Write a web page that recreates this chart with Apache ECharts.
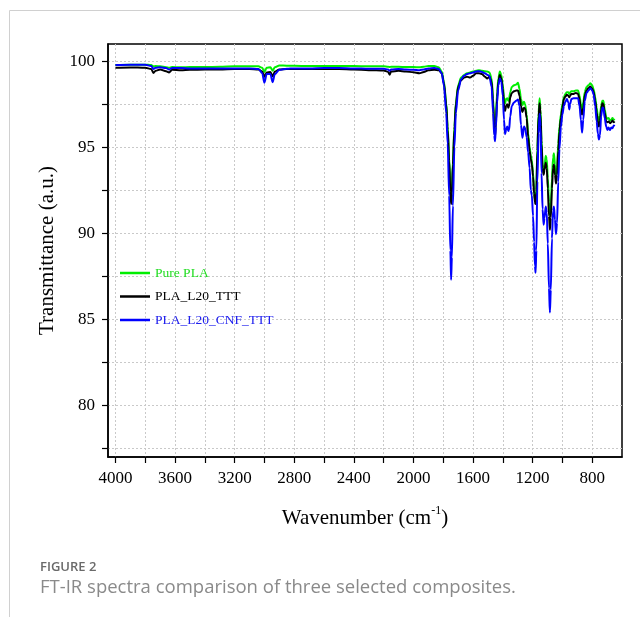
<!DOCTYPE html>
<html>
<head>
<meta charset="utf-8">
<script src="https://cdn.jsdelivr.net/npm/echarts@6/dist/echarts.min.js"></script>
<style>
  html, body { margin: 0; padding: 0; background: #fff; }
  #chart { width: 640px; height: 617px; }
</style>
</head>
<body>
<div id="chart"></div>
<script>
// wavenumber (cm-1)
const wavenumbers = [
  4000, 3900, 3800, 3760, 3745, 3730, 3700, 3660, 3640, 3620,
  3560, 3500, 3400, 3300, 3200, 3100, 3040, 3015, 3000, 2985,
  2960, 2945, 2930, 2900, 2850, 2800, 2700, 2600, 2500, 2400,
  2300, 2200, 2170, 2160, 2150, 2100, 2050, 2000, 1960, 1930,
  1900, 1860, 1830, 1810, 1795, 1780, 1770, 1760, 1752, 1747,
  1742, 1735, 1725, 1715, 1700, 1680, 1660, 1640, 1620, 1600,
  1580, 1560, 1540, 1520, 1505, 1490, 1475, 1465, 1458, 1452,
  1446, 1438, 1430, 1420, 1410, 1400, 1392, 1385, 1378, 1370,
  1363, 1358, 1350, 1340, 1325, 1310, 1298, 1288, 1278, 1268,
  1258, 1250, 1240, 1230, 1220, 1212, 1205, 1197, 1190, 1184,
  1180, 1175, 1168, 1160, 1153, 1147, 1140, 1133, 1126, 1120,
  1112, 1105, 1098, 1090, 1084, 1078, 1070, 1063, 1057, 1050,
  1043, 1036, 1028, 1020, 1010, 1000, 990, 980, 970, 960,
  954, 948, 940, 925, 910, 895, 885, 876, 868, 860,
  850, 838, 825, 812, 800, 790, 780, 770, 762, 755,
  748, 740, 732, 725, 716, 706, 698, 690, 680, 672,
  664, 656, 650
];

const purePLA = [
  99.78, 99.80, 99.80, 99.78, 99.70, 99.72, 99.70, 99.65, 99.62, 99.66,
  99.65, 99.66, 99.66, 99.68, 99.70, 99.70, 99.70, 99.62, 99.38, 99.62,
  99.65, 99.45, 99.65, 99.75, 99.74, 99.73, 99.72, 99.72, 99.72, 99.72,
  99.70, 99.70, 99.68, 99.66, 99.68, 99.68, 99.66, 99.66, 99.65, 99.68,
  99.72, 99.72, 99.65, 99.40, 98.80, 97.60, 96.20, 94.40, 92.60, 91.80,
  92.40, 94.20, 96.20, 97.60, 98.60, 99.05, 99.20, 99.30, 99.35, 99.40,
  99.45, 99.48, 99.45, 99.42, 99.40, 99.35, 99.00, 97.80, 96.60, 96.00,
  96.80, 98.20, 99.00, 99.40, 99.20, 98.60, 97.90, 97.55, 97.80, 97.85,
  97.70, 97.80, 98.20, 98.50, 98.60, 98.65, 98.75, 98.40, 97.80, 97.45,
  97.65, 97.50, 96.90, 95.80, 95.00, 94.50, 94.20, 93.50, 92.50, 91.90,
  91.75, 92.50, 95.00, 97.00, 97.85, 97.20, 95.40, 94.00, 93.50, 93.90,
  94.50, 94.30, 93.20, 91.80, 91.00, 91.50, 93.20, 94.40, 94.65, 94.00,
  93.30, 93.80, 95.20, 96.20, 96.90, 97.50, 97.90, 98.10, 98.20, 98.20,
  98.10, 98.20, 98.25, 98.25, 98.30, 98.30, 98.00, 97.50, 97.20, 97.60,
  98.20, 98.50, 98.60, 98.72, 98.60, 98.35, 97.90, 97.30, 96.80, 96.50,
  96.80, 97.40, 97.70, 97.70, 97.20, 96.75, 96.65, 96.70, 96.55, 96.60,
  96.70, 96.60, 96.65
];

const plaL20TTT = [
  99.62, 99.64, 99.62, 99.55, 99.32, 99.45, 99.52, 99.42, 99.35, 99.50,
  99.48, 99.50, 99.52, 99.52, 99.54, 99.54, 99.52, 99.40, 99.10, 99.35,
  99.38, 99.12, 99.40, 99.52, 99.54, 99.55, 99.55, 99.54, 99.55, 99.52,
  99.48, 99.46, 99.38, 99.22, 99.40, 99.44, 99.40, 99.36, 99.30, 99.38,
  99.48, 99.50, 99.48, 99.30, 98.70, 97.50, 96.00, 94.20, 92.40, 91.70,
  92.30, 94.00, 96.00, 97.50, 98.50, 98.90, 99.05, 99.10, 99.05, 99.15,
  99.30, 99.30, 99.25, 99.10, 99.00, 99.10, 98.80, 97.50, 96.20, 95.60,
  96.50, 97.90, 98.80, 99.20, 99.00, 98.40, 97.50, 97.10, 97.40, 97.50,
  97.30, 97.40, 97.90, 98.15, 98.25, 98.30, 98.30, 98.00, 97.40, 97.05,
  97.30, 97.25, 96.70, 95.60, 94.80, 94.30, 94.00, 93.30, 92.30, 91.80,
  91.70, 92.40, 94.80, 96.80, 97.55, 96.90, 95.20, 93.80, 93.40, 93.70,
  94.10, 93.80, 92.60, 91.00, 90.20, 90.90, 92.60, 93.80, 94.00, 93.40,
  92.90, 93.40, 94.80, 95.90, 96.70, 97.30, 97.80, 97.95, 98.05, 98.00,
  97.90, 98.00, 98.10, 98.10, 98.15, 98.10, 97.80, 97.20, 96.90, 97.30,
  98.00, 98.30, 98.45, 98.53, 98.40, 98.20, 97.70, 97.00, 96.50, 96.20,
  96.50, 97.20, 97.55, 97.50, 97.00, 96.50, 96.45, 96.50, 96.40, 96.45,
  96.55, 96.45, 96.50
];

const plaL20CnfTTT = [
  99.78, 99.80, 99.80, 99.72, 99.55, 99.62, 99.65, 99.60, 99.52, 99.60,
  99.60, 99.58, 99.58, 99.58, 99.58, 99.58, 99.55, 99.30, 98.75, 99.25,
  99.25, 98.78, 99.25, 99.50, 99.56, 99.58, 99.58, 99.60, 99.60, 99.58,
  99.56, 99.56, 99.52, 99.45, 99.52, 99.55, 99.52, 99.50, 99.48, 99.52,
  99.58, 99.60, 99.55, 99.30, 98.60, 97.00, 95.20, 92.20, 89.00, 87.30,
  88.60, 91.60, 95.00, 97.00, 98.30, 98.95, 99.15, 99.25, 99.30, 99.35,
  99.40, 99.42, 99.38, 99.30, 99.22, 99.15, 98.50, 97.00, 95.70, 95.35,
  96.20, 97.60, 98.60, 99.00, 98.80, 98.00, 96.60, 95.75, 96.00, 96.20,
  95.95, 96.00, 96.80, 97.40, 97.60, 97.70, 97.78, 97.40, 96.30, 95.55,
  96.20, 96.10, 95.60, 94.70, 93.80, 92.50, 92.20, 91.00, 89.50, 88.10,
  87.70, 89.00, 93.00, 95.80, 96.95, 96.20, 93.50, 91.40, 90.50, 90.90,
  91.55, 91.20, 89.40, 86.80, 85.40, 86.70, 89.70, 91.30, 91.55, 90.80,
  89.95, 90.60, 93.00, 94.90, 96.20, 96.90, 97.40, 97.65, 97.80, 97.60,
  97.20, 97.50, 97.80, 97.85, 97.85, 97.85, 97.40, 96.60, 95.85, 96.60,
  97.70, 98.15, 98.30, 98.43, 98.30, 98.05, 97.40, 96.50, 95.80, 95.45,
  95.70, 96.80, 97.30, 97.30, 96.70, 96.20, 96.00, 96.15, 96.00, 96.15,
  96.10, 96.25, 96.30
];

// axis ticks and labels
const xTickValues = [800, 1000, 1200, 1400, 1600, 1800, 2000, 2200, 2400, 2600, 2800, 3000, 3200, 3400, 3600, 3800, 4000];
const xLabelValues = [800, 1200, 1600, 2000, 2400, 2800, 3200, 3600, 4000];
const yTickValues = [77.5, 80, 82.5, 85, 87.5, 90, 92.5, 95, 97.5, 100];
const yLabelValues = [80, 85, 90, 95, 100];

const SERIF = 'Liberation Serif, Times New Roman, serif';
const gridLine = { show: true, lineStyle: { color: '#c9c9c9', width: 1, type: [2, 2] } };

let chart = echarts.init(document.getElementById('chart'), null, { renderer: 'canvas' });

function pairs(values) {
  return wavenumbers.map((w, i) => [w, values[i]]);
}

function lineSeries(name, values, color) {
  return {
    name: name,
    type: 'line',
    data: pairs(values),
    symbol: 'none',
    smooth: 0.3,
    smoothMonotone: 'x',
    lineStyle: { color: color, width: 2 },
    itemStyle: { color: color },
    emphasis: { disabled: true },
    animation: false
  };
}

chart.setOption({
  animation: false,
  backgroundColor: '#fff',
  title: [
    {
      text: 'FIGURE 2', left: 40, top: 561, padding: 0,
      textStyle: { fontFamily: 'Open Sans', fontSize: 13, fontWeight: 600, color: '#6a6a6a' }
    },
    {
      text: 'FT-IR spectra comparison of three selected composites.', left: 40, top: 578, padding: 0,
      textStyle: { fontFamily: 'Open Sans', fontSize: 18.5, fontWeight: 'normal', color: '#8a8a8a' }
    }
  ],
  graphic: [
    {
      type: 'polyline', silent: true,
      shape: { points: [[640, 10.5], [9.5, 10.5], [9.5, 617]] },
      style: { stroke: '#d0d0d0', lineWidth: 1, fill: null }
    }
  ],
  grid: {
    left: 108, right: 18, top: 44, bottom: 160,
    show: true, borderColor: '#000', borderWidth: 1.5, backgroundColor: 'transparent'
  },
  legend: {
    orient: 'vertical', left: 120, top: 266, padding: 0,
    icon: 'rect', itemWidth: 30, itemHeight: 2.5, itemGap: 9.5,
    textStyle: { fontFamily: SERIF, fontSize: 13.5, lineHeight: 14 },
    data: [
      { name: 'Pure PLA', textStyle: { color: '#22dd22' } },
      { name: 'PLA_L20_TTT', textStyle: { color: '#000' } },
      { name: 'PLA_L20_CNF_TTT', textStyle: { color: '#2020ee' } }
    ]
  },
  xAxis: {
    type: 'value', min: 600, max: 4050, interval: 200, inverse: true,
    name: 'Wavenumber (cm{sup|-1})', nameLocation: 'middle', nameGap: 48,
    nameTextStyle: {
      fontFamily: SERIF, fontSize: 21, color: '#000', lineHeight: 26,
      rich: { sup: { fontFamily: SERIF, fontSize: 12, color: '#000', verticalAlign: 'top', lineHeight: 12 } }
    },
    axisLine: { show: true, onZero: false, lineStyle: { color: '#000', width: 1.5 } },
    axisTick: { show: true, length: 6, customValues: xTickValues, lineStyle: { color: '#000', width: 1.2 } },
    axisLabel: {
      customValues: xLabelValues, margin: 13,
      formatter: function (v) { return String(v); },
      fontFamily: SERIF, fontSize: 17, color: '#000'
    },
    splitLine: gridLine
  },
  yAxis: {
    type: 'value', min: 77, max: 101, splitNumber: 5,
    name: 'Transmittance (a.u.)', nameLocation: 'middle', nameGap: 50,
    nameTextStyle: { fontFamily: SERIF, fontSize: 21, color: '#000' },
    axisLine: { show: true, onZero: false, lineStyle: { color: '#000', width: 1.5 } },
    axisTick: { show: true, length: 6, customValues: yTickValues, lineStyle: { color: '#000', width: 1.2 } },
    axisLabel: {
      customValues: yLabelValues, margin: 13,
      formatter: function (v) { return String(v); },
      fontFamily: SERIF, fontSize: 17, color: '#000'
    },
    splitLine: gridLine,
    minorTick: { show: false, splitNumber: 2 },
    minorSplitLine: gridLine
  },
  series: [
    lineSeries('Pure PLA', purePLA, '#00ee00'),
    lineSeries('PLA_L20_TTT', plaL20TTT, '#000000'),
    lineSeries('PLA_L20_CNF_TTT', plaL20CnfTTT, '#0000ff')
  ]
});

window.addEventListener('resize', function () { chart.resize(); });
</script>
</body>
</html>
